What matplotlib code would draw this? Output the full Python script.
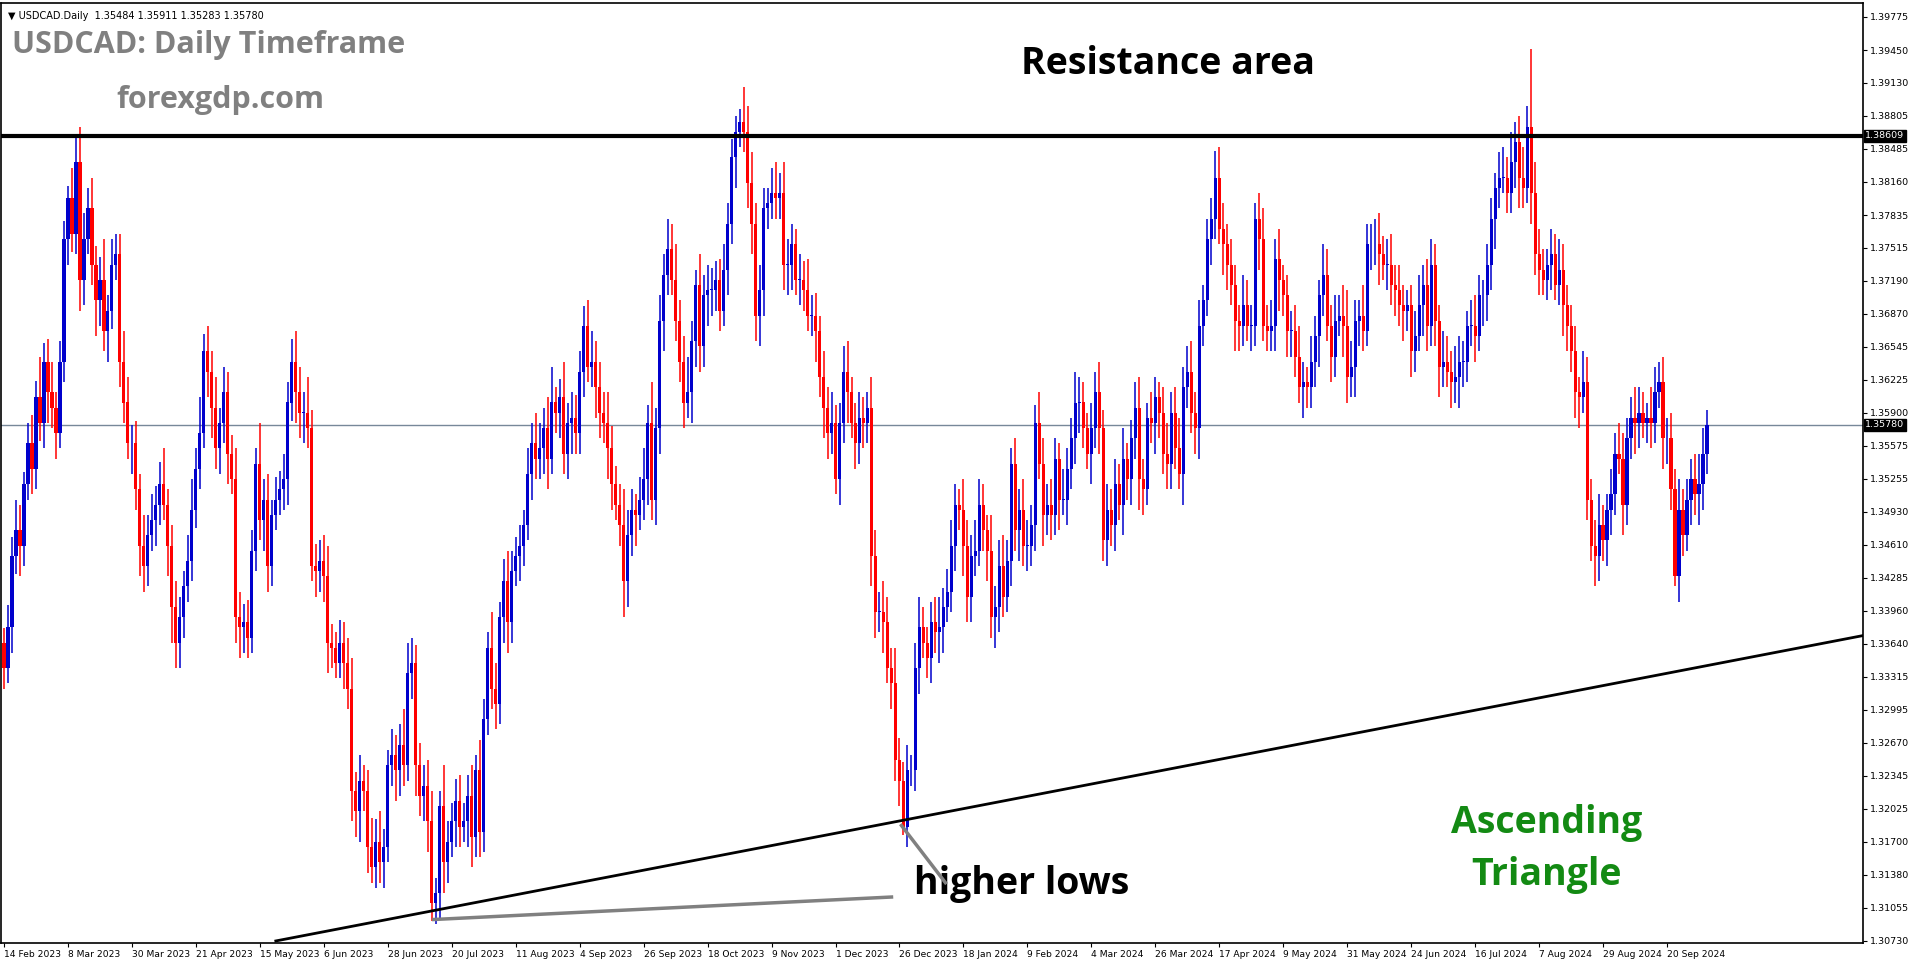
import numpy as np
import matplotlib.pyplot as plt
from matplotlib.patches import Rectangle

# USDCAD daily closes, 14 Feb 2023 - 4 Oct 2024 (one bar per trading day, no 25 Dec / 1 Jan)
first_open = 1.3365
closes = [
    1.3340, 1.3380, 1.3450, 1.3475,
    1.3460, 1.3520, 1.3560, 1.3535, 1.3605,
    1.3580, 1.3640, 1.3610, 1.3595, 1.3570,
    1.3640, 1.3760, 1.3800, 1.3765, 1.3835,
    1.3720, 1.3760, 1.3790, 1.3735, 1.3700,
    1.3720, 1.3670, 1.3690, 1.3735, 1.3745,
    1.3640, 1.3600, 1.3560, 1.3560, 1.3515,
    1.3460, 1.3440, 1.3470, 1.3485, 1.3500,
    1.3520, 1.3500, 1.3460, 1.3400, 1.3365,
    1.3390, 1.3420, 1.3445, 1.3495, 1.3535,
    1.3570, 1.3650, 1.3630, 1.3595, 1.3555,
    1.3580, 1.3610, 1.3550, 1.3525, 1.3390,
    1.3380, 1.3385, 1.3370, 1.3455, 1.3540,
    1.3485, 1.3505, 1.3440, 1.3490, 1.3505,
    1.3515, 1.3525, 1.3600, 1.3640, 1.3610,
    1.3590, 1.3590, 1.3575, 1.3440, 1.3435,
    1.3445, 1.3430, 1.3365, 1.3360, 1.3345,
    1.3365, 1.3345, 1.3320, 1.3220, 1.3200,
    1.3230, 1.3220, 1.3165, 1.3145, 1.3170,
    1.3150, 1.3165, 1.3245, 1.3255, 1.3240,
    1.3265, 1.3245, 1.3335, 1.3345, 1.3245,
    1.3215, 1.3225, 1.3190, 1.3110, 1.3120,
    1.3205, 1.3150, 1.3170, 1.3190, 1.3210,
    1.3185, 1.3190, 1.3215, 1.3175, 1.3240,
    1.3180, 1.3290, 1.3360, 1.3320, 1.3305,
    1.3390, 1.3425, 1.3385, 1.3435, 1.3450,
    1.3460, 1.3480, 1.3530, 1.3560, 1.3545,
    1.3555, 1.3575, 1.3545, 1.3600, 1.3590,
    1.3605, 1.3550, 1.3580, 1.3585, 1.3570,
    1.3630, 1.3675, 1.3635, 1.3640, 1.3615,
    1.3590, 1.3580, 1.3555, 1.3520, 1.3500,
    1.3480, 1.3425, 1.3470, 1.3495, 1.3490,
    1.3505, 1.3525, 1.3580, 1.3505, 1.3575,
    1.3680, 1.3725, 1.3750, 1.3720, 1.3680,
    1.3640, 1.3600, 1.3610, 1.3660, 1.3715,
    1.3655, 1.3705, 1.3710, 1.3710, 1.3720,
    1.3690, 1.3730, 1.3775, 1.3840, 1.3865,
    1.3875, 1.3865, 1.3815, 1.3775, 1.3685,
    1.3710, 1.3790, 1.3795, 1.3805, 1.3800,
    1.3805, 1.3735, 1.3735, 1.3755, 1.3720,
    1.3720, 1.3710, 1.3685, 1.3685, 1.3670,
    1.3625, 1.3595, 1.3570, 1.3580, 1.3525,
    1.3580, 1.3630, 1.3610, 1.3580, 1.3560,
    1.3585, 1.3580, 1.3595, 1.3450, 1.3395,
    1.3395, 1.3385, 1.3340, 1.3325, 1.3250,
    1.3230, 1.3185, 1.3240, 1.3240,
    1.3340, 1.3380, 1.3365, 1.3350,
    1.3385, 1.3375, 1.3380, 1.3400, 1.3415,
    1.3460, 1.3500, 1.3495, 1.3460, 1.3410,
    1.3450, 1.3455, 1.3500, 1.3475, 1.3455,
    1.3390, 1.3400, 1.3440, 1.3410, 1.3445,
    1.3540, 1.3475, 1.3495, 1.3460, 1.3460,
    1.3480, 1.3580, 1.3540, 1.3490, 1.3500,
    1.3490, 1.3545, 1.3505, 1.3505, 1.3535,
    1.3565, 1.3600, 1.3600, 1.3575, 1.3550,
    1.3575, 1.3610, 1.3575, 1.3465, 1.3495,
    1.3480, 1.3520, 1.3500, 1.3545, 1.3525,
    1.3565, 1.3595, 1.3525, 1.3515, 1.3585,
    1.3580, 1.3605, 1.3590, 1.3550, 1.3540,
    1.3590, 1.3555, 1.3530, 1.3615, 1.3630,
    1.3590, 1.3575, 1.3675, 1.3700, 1.3760,
    1.3780, 1.3820, 1.3770, 1.3755, 1.3735,
    1.3715, 1.3680, 1.3675, 1.3695, 1.3675,
    1.3675, 1.3780, 1.3760, 1.3675, 1.3670,
    1.3675, 1.3740, 1.3720, 1.3705, 1.3670,
    1.3670, 1.3645, 1.3615, 1.3620, 1.3615,
    1.3640, 1.3665, 1.3705, 1.3725, 1.3675,
    1.3645, 1.3680, 1.3685, 1.3675, 1.3625,
    1.3635, 1.3680, 1.3685, 1.3670, 1.3755,
    1.3755, 1.3755, 1.3745, 1.3735, 1.3735,
    1.3715, 1.3710, 1.3695, 1.3690, 1.3695,
    1.3650, 1.3665, 1.3695, 1.3715, 1.3675,
    1.3735, 1.3680, 1.3635, 1.3640, 1.3630,
    1.3620, 1.3625, 1.3640, 1.3640, 1.3675,
    1.3675, 1.3665, 1.3705, 1.3705, 1.3735,
    1.3780, 1.3810, 1.3820, 1.3820, 1.3805,
    1.3835, 1.3855, 1.3820, 1.3810, 1.3870,
    1.3805, 1.3745, 1.3730, 1.3720, 1.3735,
    1.3745, 1.3715, 1.3730, 1.3695, 1.3675,
    1.3650, 1.3610, 1.3605, 1.3620, 1.3505,
    1.3460, 1.3450, 1.3480, 1.3465, 1.3495,
    1.3510, 1.3550, 1.3545, 1.3500, 1.3565,
    1.3585, 1.3580, 1.3590, 1.3580, 1.3585,
    1.3580, 1.3610, 1.3620, 1.3565, 1.3565,
    1.3515, 1.3430, 1.3495, 1.3470, 1.3505,
    1.3525, 1.3510, 1.3520, 1.3550, 1.3578,
]

# wick lengths in pips above / below the candle body
upper_wick = [
    14, 22, 18, 30,
    25, 12, 20, 28, 16,
    40, 18, 22, 30, 15,
    20, 18, 12, 30, 27,
    35, 25, 20, 30, 18,
    22, 40, 15, 25, 20,
    20, 30, 25, 18, 22,
    15, 30, 20, 25, 18,
    22, 35, 15, 20, 25,
    20, 15, 25, 30, 20,
    35, 17, 25, 20, 30,
    15, 25, 20, 18, 30,
    25, 18, 22, 20, 15,
    40, 20, 25, 15, 22,
    18, 25, 20, 22, 30,
    25, 20, 35, 18, 22,
    20, 25, 30, 18, 15,
    22, 20, 25, 30, 18,
    25, 15, 20, 28, 22,
    30, 18, 15, 25, 20,
    20, 35, 30, 25, 18,
    22, 20, 25, 30, 15,
    15, 40, 20, 18, 22,
    25, 18, 20, 30, 15,
    30, 20, 15, 35, 25,
    15, 22, 30, 20, 18,
    20, 15, 25, 20, 30,
    25, 20, 30, 35, 15,
    18, 35, 20, 25, 22,
    20, 19, 25, 30, 20,
    25, 20, 30, 22, 18,
    20, 35, 25, 20, 15,
    22, 30, 18, 40, 20,
    25, 20, 30, 25, 35,
    20, 25, 35, 20, 15,
    30, 20, 25, 22, 18,
    20, 25, 20, 18, 15,
    12, 34, 25, 30, 20,
    25, 20, 15, 25, 30,
    20, 30, 25, 20, 15,
    25, 18, 30, 20, 22,
    15, 25, 20, 30, 18,
    20, 25, 30, 15, 20,
    25, 20, 15, 30, 25,
    20, 30, 25, 20, 35,
    22, 18, 25, 15,
    25, 30, 20, 15,
    20, 25, 30, 18, 22,
    25, 20, 15, 30, 25,
    20, 30, 25, 20, 15,
    35, 20, 25, 30, 20,
    15, 25, 20, 30, 25,
    20, 18, 30, 25, 20,
    25, 20, 15, 30, 20,
    20, 30, 25, 20, 15,
    25, 20, 30, 18, 25,
    20, 25, 20, 30, 15,
    18, 25, 30, 20, 15,
    25, 20, 15, 25, 30,
    20, 25, 30, 20, 25,
    30, 20, 25, 15, 20,
    20, 26, 30, 25, 20,
    25, 20, 15, 30, 25,
    20, 15, 25, 30, 20,
    25, 20, 30, 15, 20,
    20, 25, 30, 20, 15,
    25, 20, 15, 30, 25,
    20, 25, 20, 30, 35,
    25, 20, 15, 30, 20,
    20, 25, 30, 18, 25,
    30, 20, 25, 20, 15,
    20, 25, 30, 20, 25,
    25, 20, 15, 30, 25,
    20, 30, 25, 20, 15,
    25, 30, 20, 15, 20,
    20, 15, 25, 30, 20,
    30, 20, 25, 30, 20,
    76, 30, 25, 20, 15,
    25, 20, 30, 25, 20,
    20, 25, 15, 30, 25,
    20, 25, 30, 20, 15,
    25, 20, 30, 25, 20,
    20, 30, 25, 20, 15,
    30, 25, 20, 25, 20,
    25, 20, 30, 20, 20,
    20, 25, 30, 25, 15,
]
lower_wick = [
    20, 15, 25, 18,
    30, 20, 15, 25, 20,
    18, 25, 30, 20, 25,
    15, 20, 25, 18, 20,
    30, 25, 15, 20, 35,
    25, 20, 30, 18, 15,
    25, 20, 15, 30, 20,
    30, 25, 20, 15, 25,
    20, 15, 30, 35, 25,
    25, 20, 15, 20, 18,
    20, 15, 25, 30, 20,
    25, 20, 30, 15, 25,
    30, 25, 20, 15, 20,
    20, 30, 25, 20, 15,
    15, 20, 25, 18, 30,
    25, 30, 20, 15, 25,
    20, 25, 30, 20, 15,
    15, 25, 20, 30, 25,
    30, 20, 25, 15, 20,
    20, 25, 15, 20, 30,
    25, 20, 15, 25, 30,
    20, 25, 30, 17, 20,
    25, 30, 20, 15, 25,
    20, 15, 25, 30, 20,
    25, 20, 15, 20, 25,
    20, 25, 30, 20, 15,
    25, 20, 15, 25, 20,
    20, 25, 30, 15, 20,
    25, 20, 25, 30, 20,
    20, 25, 15, 20, 30,
    25, 20, 30, 25, 15,
    20, 35, 25, 20, 30,
    15, 20, 25, 20, 25,
    25, 30, 20, 15, 20,
    20, 25, 15, 30, 25,
    25, 20, 30, 25, 20,
    20, 15, 25, 20, 30,
    15, 20, 25, 30, 25,
    30, 25, 20, 15, 20,
    20, 25, 30, 25, 15,
    25, 20, 15, 20, 30,
    20, 30, 25, 20, 15,
    25, 20, 30, 15, 25,
    20, 25, 20, 30, 25,
    20, 30, 15, 25, 20,
    25, 8, 20, 15,
    20, 25, 15, 20,
    25, 20, 30, 25, 15,
    20, 25, 20, 30, 25,
    25, 20, 15, 20, 30,
    20, 30, 25, 20, 15,
    25, 20, 30, 20, 25,
    20, 25, 15, 30, 20,
    25, 20, 30, 15, 25,
    20, 25, 30, 20, 15,
    30, 20, 25, 20, 25,
    20, 25, 15, 30, 20,
    25, 20, 30, 25, 15,
    20, 30, 25, 20, 25,
    25, 20, 15, 30, 20,
    20, 25, 30, 20, 15,
    25, 20, 15, 30, 25,
    20, 30, 25, 20, 15,
    25, 20, 30, 15, 20,
    20, 25, 30, 20, 25,
    25, 20, 15, 30, 20,
    20, 25, 30, 20, 15,
    25, 20, 15, 30, 25,
    20, 30, 25, 20, 15,
    25, 20, 30, 15, 25,
    20, 25, 20, 30, 20,
    25, 20, 15, 30, 25,
    20, 25, 30, 20, 15,
    25, 20, 30, 25, 20,
    20, 25, 15, 30, 25,
    25, 30, 20, 15, 20,
    20, 25, 30, 20, 15,
    30, 20, 25, 15, 20,
    25, 15, 20, 30, 25,
    20, 25, 30, 15, 20,
    15, 30, 25, 20, 25,
    25, 20, 15, 30, 20,
    20, 30, 25, 15, 20,
    25, 20, 15, 30, 25,
    20, 10, 25, 20, 15,
    25, 20, 30, 25, 20,
]

date_labels = ["14 Feb 2023", "8 Mar 2023", "30 Mar 2023", "21 Apr 2023", "15 May 2023",
               "6 Jun 2023", "28 Jun 2023", "20 Jul 2023", "11 Aug 2023", "4 Sep 2023",
               "26 Sep 2023", "18 Oct 2023", "9 Nov 2023", "1 Dec 2023", "26 Dec 2023",
               "18 Jan 2024", "9 Feb 2024", "4 Mar 2024", "26 Mar 2024", "17 Apr 2024",
               "9 May 2024", "31 May 2024", "24 Jun 2024", "16 Jul 2024", "7 Aug 2024",
               "29 Aug 2024", "20 Sep 2024"]
price_ticks = [1.39775, 1.39450, 1.39130, 1.38805, 1.38485, 1.38160, 1.37835, 1.37515,
               1.37190, 1.36870, 1.36545, 1.36225, 1.35900, 1.35575, 1.35255, 1.34930,
               1.34610, 1.34285, 1.33960, 1.33640, 1.33315, 1.32995, 1.32670, 1.32345,
               1.32025, 1.31700, 1.31380, 1.31055, 1.30730]
resistance = 1.38609
last_price = 1.35780
trend_x = [68, 466.5]
trend_y = [1.3073, 1.3373]

closes = np.array(closes)
opens = np.concatenate([[first_open], closes[:-1]])
highs = np.maximum(opens, closes) + np.array(upper_wick) / 10000
lows = np.minimum(opens, closes) - np.array(lower_wick) / 10000
n = len(closes)

fig = plt.figure(figsize=(19.16, 9.64), dpi=100)
ax = fig.add_axes([0.0005, 21 / 964, 1862 / 1916, 940 / 964])
ax.set_xlim(-0.75, 465)
ax.set_ylim(1.3071, 1.3991)

for i in range(n):
    up = closes[i] >= opens[i]
    col = '#0000cc' if up else '#ff0000'
    ax.plot([i, i], [lows[i], highs[i]], color=col, lw=1.1, solid_capstyle='butt', zorder=2)
    lo = min(opens[i], closes[i])
    h = max(abs(closes[i] - opens[i]), 0.00006)
    ax.add_patch(Rectangle((i - 0.4, lo), 0.8, h, color=col, lw=0, zorder=3))

ax.axhline(resistance, color='black', lw=3, zorder=4)
ax.axhline(last_price, color='#778899', lw=1, zorder=1)
ax.plot(trend_x, trend_y, color='black', lw=2, zorder=4)

# higher lows pointers
ax.plot([107.5, 222], [1.3094, 1.3116], color='#808080', lw=2.5, zorder=4)
ax.plot([224.5, 235.5], [1.3186, 1.3130], color='#808080', lw=2.5, zorder=4)

ax.yaxis.tick_right()
ax.set_yticks(price_ticks)
ax.set_yticklabels([f"{v:.5f}" for v in price_ticks], fontsize=6.8)
ax.set_xticks(np.arange(len(date_labels)) * 16)
ax.set_xticklabels(date_labels, fontsize=6.6, ha='left')
ax.tick_params(axis='x', length=3, pad=2)
ax.tick_params(axis='y', length=3, pad=2)
for s in ax.spines.values():
    s.set_linewidth(1.2)

for val in (resistance, last_price):
    ax.text(1.0012, val, f"{val:.5f}", transform=ax.get_yaxis_transform(), fontsize=6.8,
            color='white', va='center', ha='left', zorder=6,
            bbox=dict(boxstyle='square,pad=0.15', fc='black', ec='black'))

ax.text(0.004, 0.992, "\u25bc USDCAD.Daily  1.35484 1.35911 1.35283 1.35780", transform=ax.transAxes,
        fontsize=7, va='top', ha='left')
ax.text(0.006, 0.955, "USDCAD: Daily Timeframe", transform=ax.transAxes, fontsize=22,
        fontweight='bold', color='#808080', va='center', fontname='Open Sans')
ax.text(0.118, 0.897, "forexgdp.com", transform=ax.transAxes, fontsize=22,
        fontweight='bold', color='#808080', va='center', ha='center', fontname='Open Sans')
ax.text(0.627, 0.935, "Resistance area", transform=ax.transAxes, fontsize=27,
        fontweight='bold', color='black', va='center', ha='center', fontname='Open Sans')
ax.text(0.83, 0.10, "Ascending\nTriangle", transform=ax.transAxes, fontsize=27,
        fontweight='bold', color='#138a13', va='center', ha='center', linespacing=1.5,
        fontname='Open Sans')
ax.text(0.548, 0.063, "higher lows", transform=ax.transAxes, fontsize=27,
        fontweight='bold', color='black', va='center', ha='center', fontname='Open Sans')

fig.savefig('out.png', dpi=100)
